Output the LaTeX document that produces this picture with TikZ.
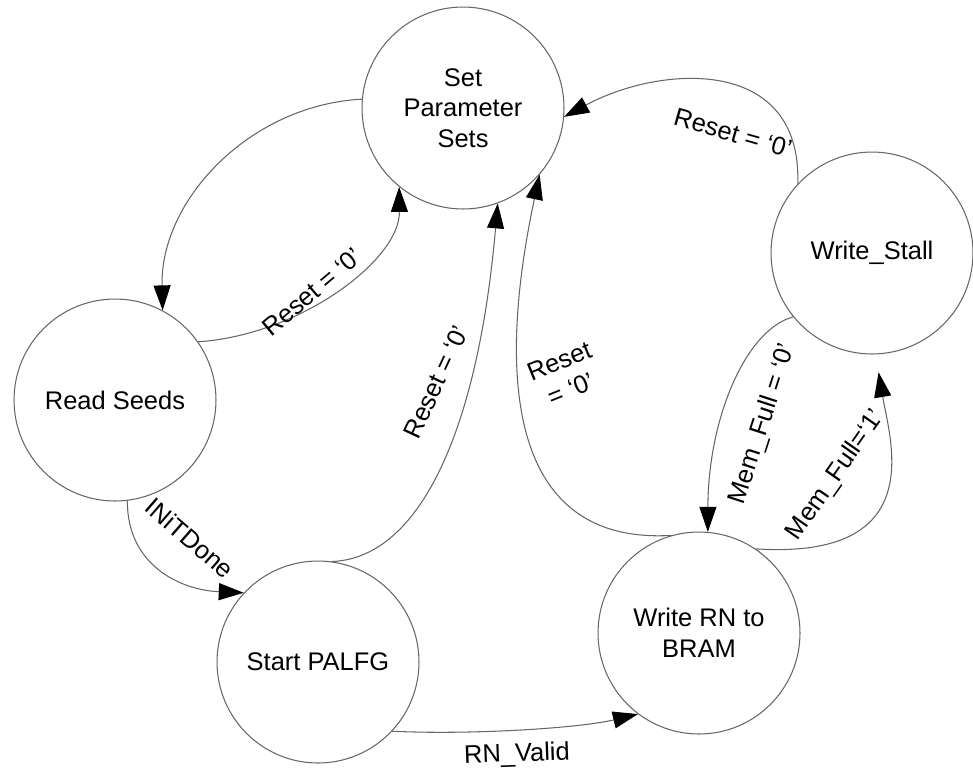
\documentclass[tikz,border=0pt]{standalone}
\usepackage{fontspec}
\setmainfont{Liberation Sans}
\usetikzlibrary{arrows.meta}
\begin{document}
\begin{tikzpicture}[x=0.02cm,y=-0.02cm,
  state/.style={circle,draw=black!60,line width=0.6pt,minimum size=4.04cm,
    inner sep=0pt,align=center,font=\fontsize{14.5}{17.4}\selectfont},
  trans/.style={draw=black!60,line width=0.6pt,
    -{Triangle[length=0.5cm,width=0.34cm,color=black]}},
  lbl/.style={font=\fontsize{14.5}{17.4}\selectfont,inner sep=1pt,align=center}]
\useasboundingbox (0,0) rectangle (973,772);

% states
\node[state] (sps) at (463,108) {Set\\Parameter\\Sets};
\node[state] (ws)  at (872,253) {Write\_Stall};
\node[state] (rs)  at (115,400) {Read Seeds};
\node[state] (sp)  at (318,662) {Start PALFG};
\node[state] (wr)  at (699,633) {Write RN to\\BRAM};

% transitions
\draw[trans] (sps.175) .. controls (250,105) and (160,200) .. (rs.62);
\draw[trans] (rs.35) .. controls (300,335) and (400,260) .. (sps.231);
\draw[trans] (rs.277) .. controls (127,565) and (180,590) .. (sp.137);
\draw[trans] (sp.82) .. controls (420,558) and (478,430) .. (sps.290);
\draw[trans] (sp.317) .. controls (473,735) and (580,728) .. (wr.233);
\draw[trans] (wr.106) .. controls (500,545) and (500,360) .. (sps.319);
\draw[trans] (ws.137) .. controls (802,55) and (660,65) .. (sps.355);
\draw[trans] (ws.219) .. controls (745,330) and (708,420) .. (wr.85);
\draw[trans,shorten >=0.36cm] (wr.56) .. controls (930,560) and (890,440) .. (ws.272);

% transition labels
\node[lbl,rotate=40]  (l1) at (312,292) {Reset = ‘0’};
\node[lbl,rotate=-41] (l2) at (190,538) {INiTDone};
\node[lbl,rotate=65]  (l3) at (436,382) {Reset = ‘0’};
\node[lbl,rotate=2]   (l4) at (517,755) {RN\_Valid};
\node[lbl,rotate=22]  (l5) at (565,375) {Reset\\= ‘0’};
\node[lbl,rotate=-16] (l6) at (733,133) {Reset = ‘0’};
\node[lbl,rotate=72]  (l7) at (763,424) {Mem\_Full = ‘0’};
\node[lbl,rotate=55]  (l8) at (836,475) {Mem\_Full=‘1’};
\end{tikzpicture}
\end{document}
